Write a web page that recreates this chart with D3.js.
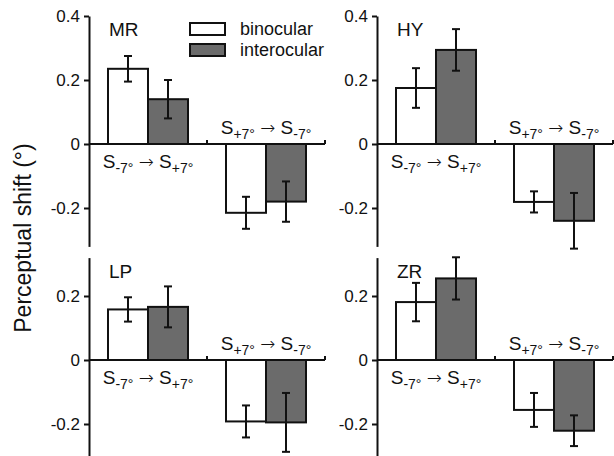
<!DOCTYPE html>
<html>
<head>
<meta charset="utf-8">
<script src="https://cdn.jsdelivr.net/npm/d3@7"></script>
<style>
  body { margin: 0; background: #fff; }
  text { font-family: "Liberation Sans", Arial, sans-serif; fill: #111; }
</style>
</head>
<body>
<div id="vis"></div>
<script>
//data----
const subjects = ["MR", "HY", "LP", "ZR"];
const conditions = ["neg2pos", "pos2neg"];
const series = ["binocular", "interocular"];

// [S-7 -> S+7, S+7 -> S-7] per subject
const binocular = [[0.235, -0.215], [0.175, -0.181], [0.158, -0.192], [0.181, -0.156]];
const binocularErr = [[0.04, 0.05], [0.062, 0.033], [0.038, 0.05], [0.06, 0.053]];
const interocular = [[0.14, -0.18], [0.294, -0.24], [0.166, -0.195], [0.255, -0.221]];
const interocularErr = [[0.06, 0.063], [0.065, 0.087], [0.064, 0.092], [0.066, 0.048]];

const yTicksTop = [-0.2, 0, 0.2, 0.4];
const yTicksBottom = [-0.2, 0, 0.2];

//layout----
const width = 614, height = 456;
const panelWidth = 236;
const colX = [89, 377];
const rows = [
    { domain: [-0.32, 0.4], range: [246.4, 16], ticks: yTicksTop },
    { domain: [-0.3, 0.32], range: [456, 257.6], ticks: yTicksBottom },
];
const fills = { binocular: "#ffffff", interocular: "#6b6b6b" };

const svg = d3.select("#vis")
    .append("svg")
    .attr("width", width)
    .attr("height", height);

//y label
svg.append("text")
    .attr("transform", "translate(31, 238) rotate(-90)")
    .attr("text-anchor", "middle")
    .style("font-size", "23px")
    .text("Perceptual shift (°)");

const x0 = d3.scaleBand()
    .domain(conditions)
    .range([0, panelWidth]);

const x1 = d3.scaleBand()
    .domain(series)
    .range([19, 99]);

// subscripted condition label
function condLabel(sel, a, b) {
    sel.append("tspan").text("S");
    sel.append("tspan").attr("dy", 5).style("font-size", "14px").text(a);
    sel.append("tspan").attr("dy", -5).text(" ");
    sel.append("tspan")
        .style("font-family", "'DejaVu Sans', sans-serif")
        .style("font-weight", 200)
        .style("font-size", "18px")
        .text("→");
    sel.append("tspan").text(" S");
    sel.append("tspan").attr("dy", 5).style("font-size", "14px").text(b);
}

subjects.forEach((name, i) => {
    const row = rows[Math.floor(i / 2)];
    const bounds = svg.append("g")
        .attr("transform", `translate(${colX[i % 2]},0)`);

    const y = d3.scaleLinear()
        .domain(row.domain)
        .range(row.range);

    //y axis
    const yAxis = bounds.append("g")
        .call(d3.axisLeft(y)
            .tickValues(row.ticks)
            .tickSize(5)
            .tickSizeOuter(0)
            .tickPadding(4)
            .tickFormat(d => d === 0 ? "0" : String(d)));
    yAxis.select(".domain").attr("stroke", "#111").attr("stroke-width", 2);
    yAxis.selectAll(".tick line").attr("stroke", "#111").attr("stroke-width", 2);
    yAxis.selectAll(".tick text")
        .style("font-size", "17px")
        .attr("fill", "#111")
        .style("font-family", "'Liberation Sans', Arial, sans-serif");

    //subject name
    bounds.append("text")
        .attr("x", 20)
        .attr("y", y(row.domain[1]) + 20)
        .style("font-size", "19px")
        .text(name);

    //bars
    const vals = [binocular[i], interocular[i]];
    const errs = [binocularErr[i], interocularErr[i]];
    const rowsData = [];
    conditions.forEach((c, ci) => {
        series.forEach((s, si) => {
            rowsData.push({ cond: c, series: s, value: vals[si][ci], err: errs[si][ci] });
        });
    });

    bounds.selectAll(".bar")
        .data(rowsData)
        .enter().append("rect")
        .attr("class", "bar")
        .attr("x", d => x0(d.cond) + x1(d.series))
        .attr("y", d => Math.min(y(d.value), y(0)))
        .attr("width", x1.bandwidth())
        .attr("height", d => Math.abs(y(d.value) - y(0)))
        .attr("fill", d => fills[d.series])
        .attr("stroke", "#111")
        .attr("stroke-width", 2);

    //error bars
    const eb = bounds.selectAll(".err")
        .data(rowsData)
        .enter().append("g")
        .attr("class", "err")
        .attr("transform", d => `translate(${x0(d.cond) + x1(d.series) + x1.bandwidth() / 2},0)`);
    eb.append("line")
        .attr("y1", d => y(d.value - d.err))
        .attr("y2", d => y(d.value + d.err))
        .attr("stroke", "#111").attr("stroke-width", 2);
    eb.selectAll(".cap")
        .data(d => [d.value - d.err, d.value + d.err])
        .enter().append("line")
        .attr("x1", -4).attr("x2", 4)
        .attr("y1", d => y(d)).attr("y2", d => y(d))
        .attr("stroke", "#111").attr("stroke-width", 2);

    //zero line with small ticks at band edges
    bounds.append("line")
        .attr("x1", 0).attr("x2", panelWidth)
        .attr("y1", y(0)).attr("y2", y(0))
        .attr("stroke", "#111").attr("stroke-width", 2);
    bounds.selectAll(".xtick")
        .data(conditions)
        .enter().append("line")
        .attr("x1", d => x0(d) + x0.bandwidth())
        .attr("x2", d => x0(d) + x0.bandwidth())
        .attr("y1", y(0)).attr("y2", y(0) - 4)
        .attr("stroke", "#111").attr("stroke-width", 2);

    //condition labels
    bounds.append("text")
        .attr("x", x0(conditions[0]) + x0.bandwidth() / 2)
        .attr("y", y(0) + 24)
        .attr("text-anchor", "middle")
        .style("font-size", "19px")
        .call(condLabel, "-7°", "+7°");
    bounds.append("text")
        .attr("x", x0(conditions[1]) + x0.bandwidth() / 2)
        .attr("y", y(0) - 10)
        .attr("text-anchor", "middle")
        .style("font-size", "19px")
        .call(condLabel, "+7°", "-7°");
});

//legend
const legend = svg.append("g")
    .attr("transform", "translate(190,23)");
const items = legend.selectAll("g")
    .data(series)
    .enter().append("g")
    .attr("transform", (d, i) => `translate(0,${i * 21})`);
items.append("rect")
    .attr("width", 35).attr("height", 12)
    .attr("fill", d => fills[d])
    .attr("stroke", "#111").attr("stroke-width", 2);
items.append("text")
    .attr("x", 50).attr("y", 12)
    .style("font-size", "18px")
    .text(d => d);
</script>
</body>
</html>
